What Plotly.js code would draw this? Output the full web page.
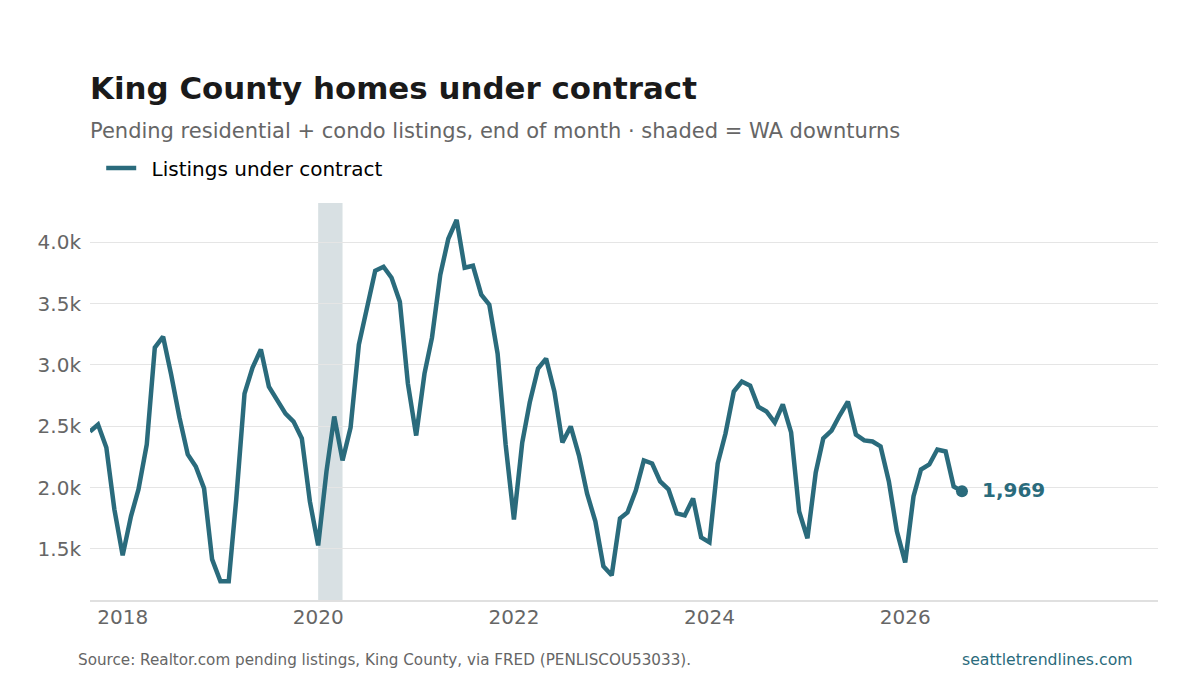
<!DOCTYPE html>
<html><head><meta charset="utf-8">
<script src="https://cdn.plot.ly/plotly-3.0.1.min.js"></script>
<style>html,body{margin:0;padding:0;background:#fff}#c{width:1200px;height:675px}</style>
</head><body><div id="c"></div>
<script>
const months = [
"2017-09-01","2017-10-01","2017-11-01","2017-12-01",
"2018-01-01","2018-02-01","2018-03-01","2018-04-01","2018-05-01","2018-06-01","2018-07-01","2018-08-01","2018-09-01","2018-10-01","2018-11-01","2018-12-01",
"2019-01-01","2019-02-01","2019-03-01","2019-04-01","2019-05-01","2019-06-01","2019-07-01","2019-08-01","2019-09-01","2019-10-01","2019-11-01","2019-12-01",
"2020-01-01","2020-02-01","2020-03-01","2020-04-01","2020-05-01","2020-06-01","2020-07-01","2020-08-01","2020-09-01","2020-10-01","2020-11-01","2020-12-01",
"2021-01-01","2021-02-01","2021-03-01","2021-04-01","2021-05-01","2021-06-01","2021-07-01","2021-08-01","2021-09-01","2021-10-01","2021-11-01","2021-12-01",
"2022-01-01","2022-02-01","2022-03-01","2022-04-01","2022-05-01","2022-06-01","2022-07-01","2022-08-01","2022-09-01","2022-10-01","2022-11-01","2022-12-01",
"2023-01-01","2023-02-01","2023-03-01","2023-04-01","2023-05-01","2023-06-01","2023-07-01","2023-08-01","2023-09-01","2023-10-01","2023-11-01","2023-12-01",
"2024-01-01","2024-02-01","2024-03-01","2024-04-01","2024-05-01","2024-06-01","2024-07-01","2024-08-01","2024-09-01","2024-10-01","2024-11-01","2024-12-01",
"2025-01-01","2025-02-01","2025-03-01","2025-04-01","2025-05-01","2025-06-01","2025-07-01","2025-08-01","2025-09-01","2025-10-01","2025-11-01","2025-12-01",
"2026-01-01","2026-02-01","2026-03-01","2026-04-01","2026-05-01","2026-06-01","2026-07-01","2026-08-01"];
const listings = [
2457,2514,2327,1822,
1447,1765,1985,2351,3141,3230,2921,2571,2270,2172,1993,1414,
1235,1235,1903,2766,2978,3125,2823,2717,2603,2538,2400,1887,
1528,2131,2579,2221,2489,3166,3466,3768,3800,3711,3515,2848,
2424,2929,3222,3735,4028,4183,3792,3808,3572,3491,3092,2351,
1740,2367,2693,2970,3051,2783,2367,2498,2261,1952,1724,1358,
1284,1748,1797,1976,2221,2196,2050,1985,1789,1773,1911,1594,
1553,2196,2441,2783,2864,2831,2660,2620,2530,2677,2449,1805,
1586,2123,2400,2465,2587,2701,2432,2384,2375,2335,2050,1643,
1390,1928,2147,2188,2310,2294,2009,1969];
const downturnStart = "2020-01-01", downturnEnd = "2020-04-01";
const seriesName = "Listings under contract";
const lastLabel = "1,969";
const yTicks = [1500,2000,2500,3000,3500,4000];
const yTickLabels = ["1.5k","2.0k","2.5k","3.0k","3.5k","4.0k"];
const xTicks = ["2018-01-01","2020-01-01","2022-01-01","2024-01-01","2026-01-01"];
const xTickLabels = ["2018","2020","2022","2024","2026"];
const titleText = "King County homes under contract";
const subtitleText = "Pending residential + condo listings, end of month · shaded = WA downturns";
const sourceText = "Source: Realtor.com pending listings, King County, via FRED (PENLISCOU53033).";
const siteText = "seattletrendlines.com";

const FONT = "DejaVu Sans, sans-serif", TEAL = "#2a6b7c", GRAY = "#666666";
const lastX = months[months.length-1], lastY = listings[listings.length-1];

Plotly.newPlot("c", [
 {x:months,y:listings,type:"scatter",mode:"lines",name:"\u00a0\u2009"+seriesName,
  line:{color:TEAL,width:4.5,shape:"linear"},hoverinfo:"skip"},
 {x:[lastX],y:[lastY],type:"scatter",mode:"markers",showlegend:false,
  marker:{color:TEAL,size:12},hoverinfo:"skip"}
],{
 width:1200,height:675,
 paper_bgcolor:"#fff",plot_bgcolor:"#fff",
 font:{family:FONT,color:GRAY},
 margin:{l:90,r:42,t:203,b:74.5,pad:0},
 title:{text:"<b>"+titleText+"</b>",x:90/1200,xanchor:"left",xref:"container",
        y:1-88/675,yanchor:"middle",yref:"container",font:{family:FONT,size:30.9,color:"#1a1a1a"}},
 legend:{orientation:"h",x:0.0105,xanchor:"left",y:1.088,yanchor:"middle",
         font:{family:FONT,size:20,color:"#000"},bgcolor:"rgba(0,0,0,0)"},
 xaxis:{type:"date",range:["2017-09-01","2028-08-02"],tickmode:"array",tickvals:xTicks,ticktext:xTickLabels,
        showgrid:false,zeroline:false,showline:true,linecolor:"#e0e0e0",linewidth:2,
        ticks:"",ticklabelstandoff:-2,
        tickfont:{family:FONT,size:20,color:GRAY}},
 yaxis:{range:[1083,4320],tickmode:"array",tickvals:yTicks,ticktext:yTickLabels,
        showgrid:true,gridcolor:"#e5e5e5",gridwidth:1,zeroline:false,showline:false,
        ticks:"",ticklabelstandoff:8,
        tickfont:{family:FONT,size:20,color:GRAY}},
 shapes:[{type:"rect",xref:"x",yref:"paper",x0:downturnStart,x1:downturnEnd,y0:0,y1:1,
          fillcolor:"#265363",opacity:0.18,line:{width:0},layer:"below"}],
 annotations:[
  {xref:"paper",yref:"paper",x:0,xanchor:"left",xshift:-2,y:1,yanchor:"middle",yshift:72,text:subtitleText,showarrow:false,
   font:{family:FONT,size:21,color:GRAY}},
  {xref:"x",yref:"y",x:lastX,y:lastY,xanchor:"left",yanchor:"middle",xshift:18,yshift:1,text:"<b>"+lastLabel+"</b>",showarrow:false,
   font:{family:FONT,size:20,color:TEAL}},
  {xref:"paper",yref:"paper",x:0,xanchor:"left",y:0,yanchor:"middle",yshift:-60,xshift:-14,text:sourceText,showarrow:false,
   font:{family:FONT,size:15.2,color:GRAY}},
  {xref:"paper",yref:"paper",x:1,xanchor:"right",y:0,yanchor:"middle",yshift:-59,xshift:-23,text:siteText,showarrow:false,
   font:{family:FONT,size:15.7,color:TEAL}}
 ]
},{displayModeBar:false,staticPlot:true});
</script></body></html>
